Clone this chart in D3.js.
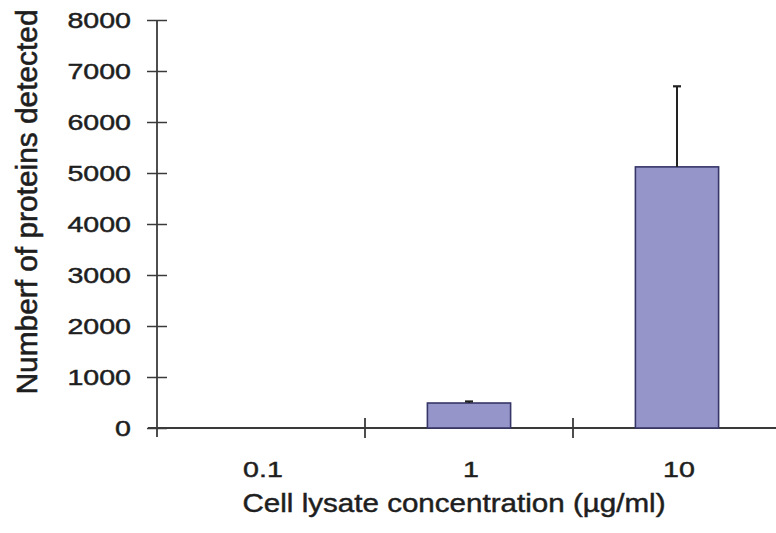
<!DOCTYPE html>
<html>
<head>
<meta charset="utf-8">
<script src="https://cdn.jsdelivr.net/npm/d3@7"></script>
<style>
html,body{margin:0;padding:0;background:#fff;}
svg{display:block;}
text{font-family:"Liberation Sans",Arial,sans-serif;fill:#1e1e1e;stroke:#1e1e1e;stroke-width:0.45px;}
</style>
</head>
<body>
<svg id="chart" width="776" height="533"></svg>
<script>
const categories = ["0.1", "1", "10"];
const values = [0, 490, 5120];
const errors = [0, 30, 1580];
const yTicks = [0, 1000, 2000, 3000, 4000, 5000, 6000, 7000, 8000];
const xTitle = "Cell lysate concentration (\u00b5g/ml)";
const yTitle = "Numberf of proteins detected";

const svg = d3.select("#chart");
const x0 = 157, x1 = 781, yBase = 428, yTop = 20;

const x = d3.scaleBand().domain(categories).range([x0, x1]).paddingInner(0).paddingOuter(0);
const y = d3.scaleLinear().domain([0, 8000]).range([yBase, yTop]);

const axisColor = "#3a3a3a";

// Y axis
const yAxis = d3.axisLeft(y).tickValues(yTicks).tickSize(0).tickPadding(26).tickFormat(d3.format("d"));
const gy = svg.append("g").attr("transform", `translate(${x0},0)`).call(yAxis);
gy.select(".domain").remove();
gy.selectAll(".tick text").attr("font-size", 22).attr("fill", "#1e1e1e")
  .attr("font-family", '"Liberation Sans",Arial,sans-serif')
  .each(function(){ const w = this.getComputedTextLength(); d3.select(this).attr("textLength", w*1.3).attr("lengthAdjust","spacingAndGlyphs"); });
gy.selectAll(".tick").append("line").attr("x1", -10).attr("x2", 10).attr("stroke", axisColor).attr("stroke-width", 1.5);
svg.append("line").attr("x1", x0).attr("x2", x0).attr("y1", y(8000)).attr("y2", yBase + 9)
  .attr("stroke", axisColor).attr("stroke-width", 1.8);

// X axis line
svg.append("line").attr("x1", x0 - 9).attr("x2", 776).attr("y1", yBase).attr("y2", yBase)
  .attr("stroke", axisColor).attr("stroke-width", 1.8);
// category boundary ticks
const bounds = categories.slice(1).map(c => x(c));
svg.selectAll(".xtick").data(bounds).join("line").attr("class","xtick")
  .attr("x1", d => d).attr("x2", d => d).attr("y1", yBase - 10).attr("y2", yBase + 10)
  .attr("stroke", axisColor).attr("stroke-width", 1.8);
// x labels
svg.selectAll(".xlab").data(categories).join("text").attr("class","xlab")
  .attr("x", d => x(d) + x.bandwidth()/2 + 2).attr("y", 477)
  .attr("text-anchor","middle").attr("font-size", 22)
  .text(d => d)
  .each(function(){ const w = this.getComputedTextLength(); d3.select(this).attr("textLength", w*1.3).attr("lengthAdjust","spacingAndGlyphs"); });

// Bars
const barW = x.bandwidth() * 0.4;
const data = categories.map((c, i) => ({c, v: values[i], e: errors[i]})).filter(d => d.v > 0);
svg.selectAll(".bar").data(data).join("rect").attr("class","bar")
  .attr("x", d => x(d.c) + (x.bandwidth() - barW)/2)
  .attr("width", barW)
  .attr("y", d => y(d.v))
  .attr("height", d => yBase - y(d.v))
  .attr("fill", "#9595c9").attr("stroke", "#363668").attr("stroke-width", 1.6);

// Error bars (upper only)
const eb = svg.selectAll(".err").data(data).join("g").attr("class","err");
eb.append("line").attr("x1", d => x(d.c) + x.bandwidth()/2).attr("x2", d => x(d.c) + x.bandwidth()/2)
  .attr("y1", d => y(d.v)).attr("y2", d => y(d.v + d.e)).attr("stroke", "#222").attr("stroke-width", 2);
eb.append("line").attr("x1", d => x(d.c) + x.bandwidth()/2 - 4).attr("x2", d => x(d.c) + x.bandwidth()/2 + 4)
  .attr("y1", d => y(d.v + d.e)).attr("y2", d => y(d.v + d.e)).attr("stroke", "#222").attr("stroke-width", 2.2);

// Titles
const xt = svg.append("text").attr("x", 454).attr("y", 512).attr("text-anchor","middle")
  .attr("font-size", 25).text(xTitle);
xt.attr("textLength", 423).attr("lengthAdjust","spacingAndGlyphs");

const yt = svg.append("text").attr("transform", "translate(37,202) scale(1.3,1) rotate(-90)")
  .attr("text-anchor","middle").attr("font-size", 23).text(yTitle);
yt.attr("textLength", 385).attr("lengthAdjust","spacingAndGlyphs");
</script>
</body>
</html>
